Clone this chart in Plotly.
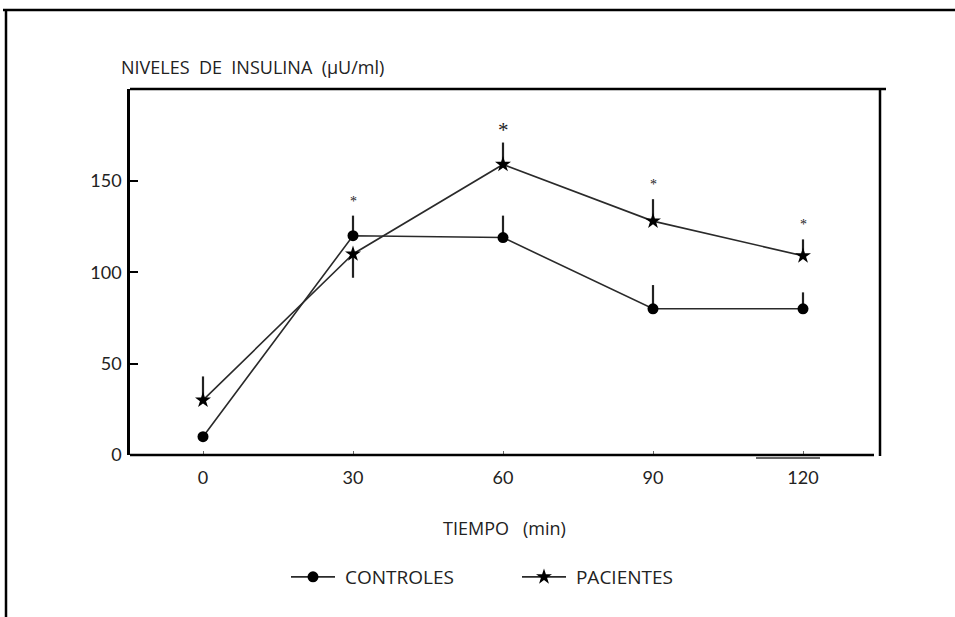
import plotly.graph_objects as go

tiempo = [0, 30, 60, 90, 120]
controles = [10, 120, 119, 80, 80]
controles_err_up = [0, 11, 12, 13, 9]
controles_err_down = [0, 0, 0, 0, 0]
pacientes = [30, 110, 159, 128, 109]
pacientes_err_up = [13, 0, 12, 12, 9]
pacientes_err_down = [0, 13, 0, 0, 0]
asteriscos_x = [30, 60, 90, 120]
asteriscos_y = [139, 178, 148, 126]
asteriscos_size = [14, 21, 14, 14]
y_ticks = [0, 50, 100, 150]
x_ticks = [0, 30, 60, 90, 120]

W, H = 955, 617
L, R, T, B = 130, 880, 89, 455

def px(x):
    return (x - L) / (R - L)

def py(y):
    return (B - y) / (B - T)

fig = go.Figure()
fig.add_trace(go.Scatter(
    x=tiempo, y=controles, mode="lines+markers", name="\u00a0CONTROLES",
    line=dict(color="#2a2a2a", width=1.6),
    marker=dict(symbol="circle", size=11, color="black"),
    error_y=dict(type="data", symmetric=False, array=controles_err_up,
                 arrayminus=controles_err_down, width=0, thickness=2.2, color="#222222"),
))
fig.add_trace(go.Scatter(
    x=tiempo, y=pacientes, mode="lines+markers", name="\u00a0PACIENTES",
    line=dict(color="#2a2a2a", width=1.6),
    marker=dict(symbol="star", size=12, color="black"),
    error_y=dict(type="data", symmetric=False, array=pacientes_err_up,
                 arrayminus=pacientes_err_down, width=0, thickness=2.2, color="#222222"),
))

for xa, ya, sz in zip(asteriscos_x, asteriscos_y, asteriscos_size):
    fig.add_annotation(x=xa, y=ya, text="*", showarrow=False,
                       font=dict(family="Liberation Serif", size=sz, color="#222222"))

fig.add_annotation(xref="paper", yref="paper", x=px(119), y=py(67),
                   xanchor="left", yanchor="middle", showarrow=False,
                   text="NIVELES  DE  INSULINA  (\u00b5U/ml)",
                   font=dict(family="Open Sans", size=18, color="#222222"))
fig.add_annotation(xref="paper", yref="paper", x=px(504), y=py(528),
                   xanchor="center", yanchor="middle", showarrow=False,
                   text="TIEMPO   (min)",
                   font=dict(family="Open Sans", size=18, color="#222222"))

line = dict(color="black", width=2.5)
shapes = [
    dict(type="line", xref="paper", yref="paper", x0=px(3), x1=px(955), y0=py(10), y1=py(10), line=line),
    dict(type="line", xref="paper", yref="paper", x0=px(6), x1=px(6), y0=py(10), y1=py(617), line=line),
    dict(type="line", xref="paper", yref="paper", x0=px(130), x1=px(886), y0=py(89), y1=py(89), line=line),
    dict(type="line", xref="paper", yref="paper", x0=px(880), x1=px(880), y0=py(89), y1=py(456), line=line),
    dict(type="line", xref="paper", yref="paper", x0=px(130), x1=px(874), y0=py(455), y1=py(455), line=line),
    dict(type="line", xref="paper", yref="paper", x0=px(756), x1=px(820), y0=py(458), y1=py(458),
         line=dict(color="#333333", width=1.5)),
]
fig.update_layout(shapes=shapes)

fig.update_xaxes(range=[-14.6, 135.4], tickvals=x_ticks, ticktext=[str(v) for v in x_ticks],
                 showgrid=False, zeroline=False, showline=False,
                 ticks="inside", ticklen=4, tickwidth=1, tickcolor="#666666",
                 ticklabelstandoff=10,
                 tickfont=dict(family="Lato", size=18, color="#222222"))
fig.update_yaxes(range=[0, 200.3], tickvals=y_ticks, ticktext=[str(v) for v in y_ticks],
                 showgrid=False, zeroline=False, showline=True, linecolor="black", linewidth=2.5,
                 ticks="inside", ticklen=8, tickwidth=2, tickcolor="black",
                 ticklabelstandoff=2,
                 tickfont=dict(family="Lato", size=18, color="#222222"))

fig.update_layout(
    width=W, height=H,
    margin=dict(l=L, r=W - R, t=T, b=H - B),
    plot_bgcolor="white", paper_bgcolor="white",
    showlegend=True,
    legend=dict(orientation="h", x=px(286), y=py(577), xanchor="left", yanchor="middle",
                entrywidth=172, entrywidthmode="pixels", itemwidth=44,
                font=dict(family="Open Sans", size=19, color="#222222"),
                bgcolor="rgba(0,0,0,0)"),
)

fig.write_html("out.html")
